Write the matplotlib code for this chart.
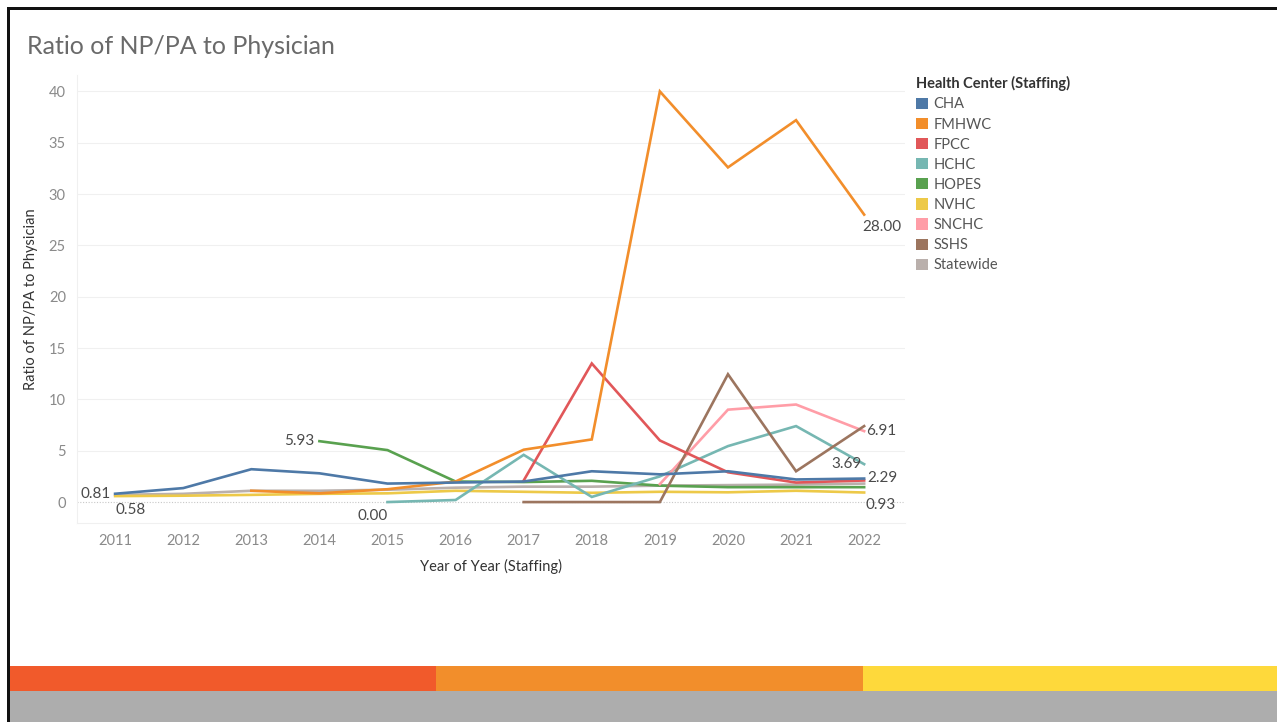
import numpy as np
import matplotlib.pyplot as plt
from matplotlib.patches import Patch, Rectangle

plt.rcParams['font.family'] = ['Lato', 'DejaVu Sans']

years = list(range(2011, 2023))
nan = np.nan

cha = [0.81, 1.36, 3.2, 2.8, 1.8, 1.9, 2.0, 3.0, 2.7, 3.0, 2.2, 2.29]
fmhwc = [nan, nan, 1.1, 0.85, 1.25, 2.0, 5.1, 6.1, 40.0, 32.6, 37.2, 28.0]
fpcc = [nan, nan, nan, nan, nan, nan, 2.1, 13.5, 6.0, 2.9, 1.9, 2.1]
hchc = [nan, nan, nan, nan, 0.0, 0.2, 4.6, 0.5, 2.5, 5.45, 7.4, 3.69]
hopes = [nan, nan, nan, 5.93, 5.06, 2.0, 1.95, 2.07, 1.6, 1.45, 1.45, 1.45]
nvhc = [0.58, 0.62, 0.7, 0.8, 0.85, 1.1, 1.0, 0.9, 1.0, 0.95, 1.1, 0.93]
snchc = [nan, nan, nan, nan, nan, nan, nan, nan, 1.75, 9.0, 9.5, 6.91]
sshs = [nan, nan, nan, nan, nan, nan, 0.0, 0.0, 0.0, 12.45, 3.0, 7.4]
statewide = [0.7, 0.8, 1.1, 1.1, 1.2, 1.4, 1.5, 1.5, 1.6, 1.65, 1.7, 1.8]

names = ['CHA', 'FMHWC', 'FPCC', 'HCHC', 'HOPES', 'NVHC', 'SNCHC', 'SSHS', 'Statewide']
series = [cha, fmhwc, fpcc, hchc, hopes, nvhc, snchc, sshs, statewide]
colors = ['#4e79a7', '#f28e2b', '#e15759', '#76b7b2', '#59a14f',
          '#edc948', '#ff9da7', '#9c755f', '#bab0ac']

fig = plt.figure(figsize=(12.77, 7.22), dpi=100)
ax = fig.add_axes([77/1277, 1-523/722, (905-77)/1277, (523-75)/722])

# draw statewide first so it sits under the centres
order = [8, 5, 4, 3, 6, 7, 2, 1, 0]
for i in order:
    ax.plot(years, series[i], color=colors[i], lw=1.9, zorder=3,
            solid_joinstyle='miter')

ax.set_xlim(2010.44, 2022.6)
ax.set_ylim(-2.04, 41.6)
ax.set_xticks(years)
ax.set_yticks(range(0, 45, 5))
ax.tick_params(length=0, labelsize=10.5, colors='#8a8a8a', pad=8)
for s in ['top', 'right']:
    ax.spines[s].set_visible(False)
ax.spines['left'].set_color('#f0f0f0')
ax.spines['bottom'].set_color('#f0f0f0')
for v in range(5, 45, 5):
    ax.axhline(v, color='#f0f0f0', lw=0.8, zorder=1)
ax.axhline(0, color='#c8c8c8', lw=0.8, ls=(0, (1, 1.5)), zorder=1)

ax.set_xlabel('Year of Year (Staffing)', fontsize=10.5, color='#333333', labelpad=8)
ax.set_ylabel('Ratio of NP/PA to Physician', fontsize=10.5, color='#333333', labelpad=8)

lab = dict(fontsize=11, color='#4a4a4a', zorder=5)
ax.text(2011 - 0.07, cha[0], '0.81', ha='right', va='center', **lab)
ax.text(2011, nvhc[0] - 0.7, '0.58', ha='left', va='top', **lab)
ax.text(2014 - 0.07, hopes[3], '5.93', ha='right', va='center', **lab)
ax.text(2015, hchc[4] - 0.7, '0.00', ha='right', va='top', **lab)
ax.text(2022 - 0.02, fmhwc[11] - 0.5, '28.00', ha='left', va='top', **lab)
ax.text(2022 + 0.03, snchc[11], '6.91', ha='left', va='center', **lab)
ax.text(2022 - 0.03, hchc[11], '3.69', ha='right', va='center', **lab)
ax.text(2022 + 0.05, cha[11] + 0.1, '2.29', ha='left', va='center', **lab)
ax.text(2022 + 0.02, nvhc[11] - 0.5, '0.93', ha='left', va='top', **lab)

fig.text(27/1277, 1-47/722, 'Ratio of NP/PA to Physician', fontsize=18,
         color='#6a6a6a', va='center')

handles = [Patch(facecolor=c, edgecolor='none') for c in colors]
leg = fig.legend(handles, names, loc='upper left',
                 bbox_to_anchor=(906/1277, 1-66/722), frameon=False,
                 title='Health Center (Staffing)', alignment='left',
                 fontsize=10.5, title_fontsize=10.5, handlelength=0.8,
                 handleheight=0.8, handletextpad=0.4, labelspacing=0.42,
                 borderpad=0.2)
leg.get_title().set_fontweight('bold')
leg.get_title().set_color('#333333')
for t in leg.get_texts():
    t.set_color('#555555')

# frame lines and footer stripes
def box(x0, y0, x1, y1, c):
    fig.add_artist(Rectangle((x0/1277, 1-y1/722), (x1-x0)/1277, (y1-y0)/722,
                             transform=fig.transFigure, color=c, lw=0, zorder=10))

box(7, 7, 1277, 10, '#111111')
box(7, 7, 10, 722, '#111111')
box(10, 666, 436, 691, '#f15a2b')
box(436, 666, 863, 691, '#f28e2b')
box(863, 666, 1277, 691, '#fed93b')
box(10, 691, 1277, 722, '#adadad')

fig.savefig('out.png', dpi=100)
